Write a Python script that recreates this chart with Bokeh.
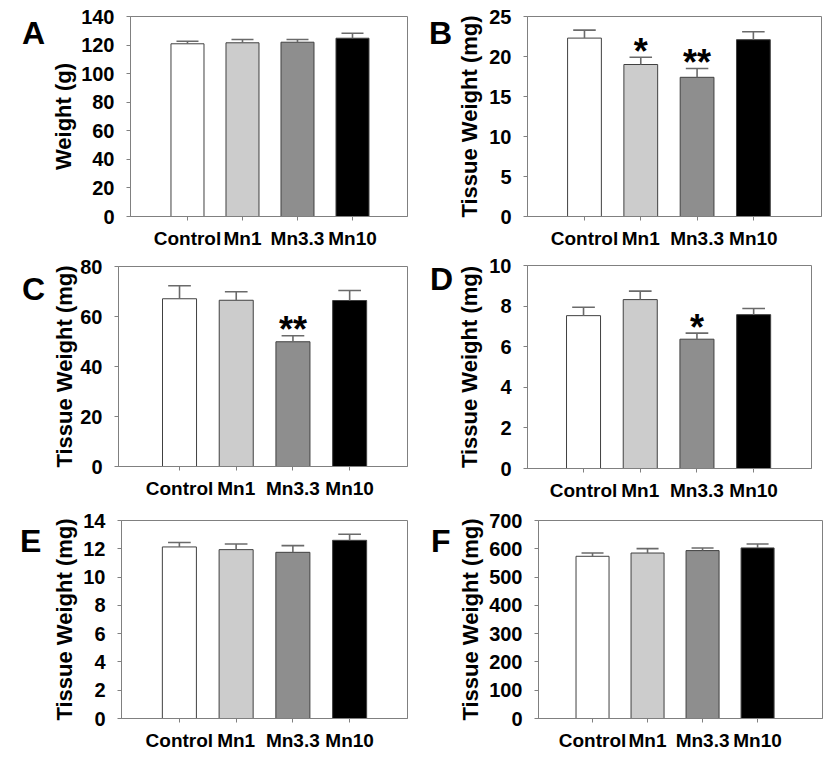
from bokeh.plotting import figure
from bokeh.layouts import column, row
from bokeh.models import FixedTicker, Range1d, ColumnDataSource, Div
from bokeh.core.properties import value
from bokeh.embed import file_html
from bokeh.resources import INLINE

categories = ["Control", "Mn1", "Mn3.3", "Mn10"]
bar_colors = ["#ffffff", "#cccccc", "#8e8e8e", "#000000"]

a_mean = [120.9, 121.6, 122.0, 124.8]
a_err = [1.8, 2.3, 1.9, 3.5]
a_sig = ["", "", "", ""]

b_mean = [22.3, 19.0, 17.4, 22.1]
b_err = [1.0, 0.9, 1.1, 1.0]
b_sig = ["", "*", "**", ""]

c_mean = [67.1, 66.5, 49.9, 66.4]
c_err = [5.2, 3.4, 2.4, 4.0]
c_sig = ["", "", "**", ""]

d_mean = [7.53, 8.32, 6.37, 7.58]
d_err = [0.41, 0.42, 0.30, 0.30]
d_sig = ["", "", "*", ""]

e_mean = [12.13, 11.94, 11.75, 12.60]
e_err = [0.31, 0.40, 0.47, 0.43]
e_sig = ["", "", "", ""]

f_mean = [573.5, 585.0, 593.6, 603.0]
f_err = [11.8, 15.7, 9.4, 14.0]
f_sig = ["", "", "", ""]

FONT = "Liberation Sans"
GRAY = "#808080"


def make_panel(letter, ylabel, means, errs, sig, ymax, ystep,
               frame, cell, xr, letter_xy, als):
    L, R, T, B = frame
    cx0, cy0, cx1, cy1 = cell
    lx, ly = letter_xy
    pad_left = lx - cx0 - 11
    div_w = lx - cx0 + 13
    pad_top = max(0, int(round(ly - cy0 - 15.6)))
    div = Div(text=f'<div style="font-family:\'{FONT}\';font-weight:bold;'
                   f'font-size:32px;line-height:32px;color:black;'
                   f'padding-left:{pad_left}px;padding-top:{pad_top}px;">{letter}</div>',
              width=div_w, height=cy1 - cy0, margin=0)

    p = figure(frame_width=R - L, frame_height=B - T,
               min_border_left=L - cx0 - div_w, min_border_right=cx1 - R,
               min_border_top=T - cy0, min_border_bottom=cy1 - B,
               x_range=Range1d(*xr), y_range=Range1d(0, ymax),
               output_backend="svg", toolbar_location=None)
    p.xgrid.visible = False
    p.ygrid.visible = False
    p.outline_line_color = GRAY
    p.outline_line_width = 1
    p.background_fill_color = "white"
    p.border_fill_color = "white"

    xs = [i + 1 for i in range(len(categories))]
    tops = [m + e for m, e in zip(means, errs)]
    src = ColumnDataSource(dict(x=xs, top=means, hi=tops, color=bar_colors,
                                left=[x - 0.2 for x in xs],
                                right=[x + 0.2 for x in xs], sig=sig))
    p.vbar(x="x", top="top", bottom=0, width=0.6, fill_color="color",
           line_color="#404040", line_width=1, source=src)
    p.segment(x0="x", y0="top", x1="x", y1="hi", line_color="#6a6a6a",
              line_width=1.6, source=src)
    p.segment(x0="left", y0="hi", x1="right", y1="hi", line_color="#6a6a6a",
              line_width=1.6, source=src)
    p.text(x="x", y="hi", text="sig", text_align="center",
           text_baseline="alphabetic", y_offset=-6,
           text_font=value(FONT), text_font_style="bold",
           text_font_size="36px", text_color="black", source=src)

    # axes
    p.xaxis.ticker = FixedTicker(ticks=xs)
    p.xaxis.major_label_overrides = {x: c for x, c in zip(xs, categories)}
    p.yaxis.ticker = FixedTicker(ticks=list(range(0, ymax + 1, ystep)))
    for ax in (p.xaxis[0], p.yaxis[0]):
        ax.axis_line_color = GRAY
        ax.major_tick_line_color = GRAY
        ax.major_tick_in = 0
        ax.major_tick_out = 4
        ax.minor_tick_line_color = None
        ax.major_label_text_font = FONT
        ax.major_label_text_font_style = "bold"
        ax.major_label_text_color = "black"
    p.xaxis.major_label_text_font_size = "19px"
    p.xaxis.major_label_standoff = 7
    p.yaxis.major_label_text_font_size = "20px"
    p.yaxis.major_label_standoff = 12
    p.yaxis.axis_label = ylabel
    p.yaxis.axis_label_text_font = FONT
    p.yaxis.axis_label_text_font_style = "bold"
    p.yaxis.axis_label_text_font_size = "22px"
    p.yaxis.axis_label_text_color = "black"
    p.yaxis.axis_label_standoff = als - 3
    return row(div, p, spacing=0)


pA = make_panel("A", "Weight (g)", a_mean, a_err, a_sig, 140, 20,
                (130, 407, 16, 216), (0, 0, 418, 252), (-0.036, 5.0), (33, 33), 5)
pB = make_panel("B", "Tissue Weight (mg)", b_mean, b_err, b_sig, 25, 5,
                (527, 821, 16, 216), (418, 0, 826, 252), (-0.012, 5.21), (440, 33), 7)
pC = make_panel("C", "Tissue Weight (mg)", c_mean, c_err, c_sig, 80, 20,
                (118, 407, 266, 466), (0, 252, 418, 502), (-0.076, 5.02), (33, 289), 3)
pD = make_panel("D", "Tissue Weight (mg)", d_mean, d_err, d_sig, 10, 2,
                (527, 811, 265, 468), (418, 252, 826, 502), (0.012, 5.02), (441, 279), 7)
pE = make_panel("E", "Tissue Weight (mg)", e_mean, e_err, e_sig, 14, 2,
                (121, 407, 519, 717), (0, 502, 418, 752), (-0.02, 5.02), (31, 540), 6)
pF = make_panel("F", "Tissue Weight (mg)", f_mean, f_err, f_sig, 700, 100,
                (537, 821, 519, 717), (418, 502, 826, 752), (0.018, 5.18), (442, 540), 6)

layout = column(row(pA, pB, spacing=0), row(pC, pD, spacing=0),
                row(pE, pF, spacing=0), spacing=0)
open("out.html", "w").write(file_html(layout, INLINE))
